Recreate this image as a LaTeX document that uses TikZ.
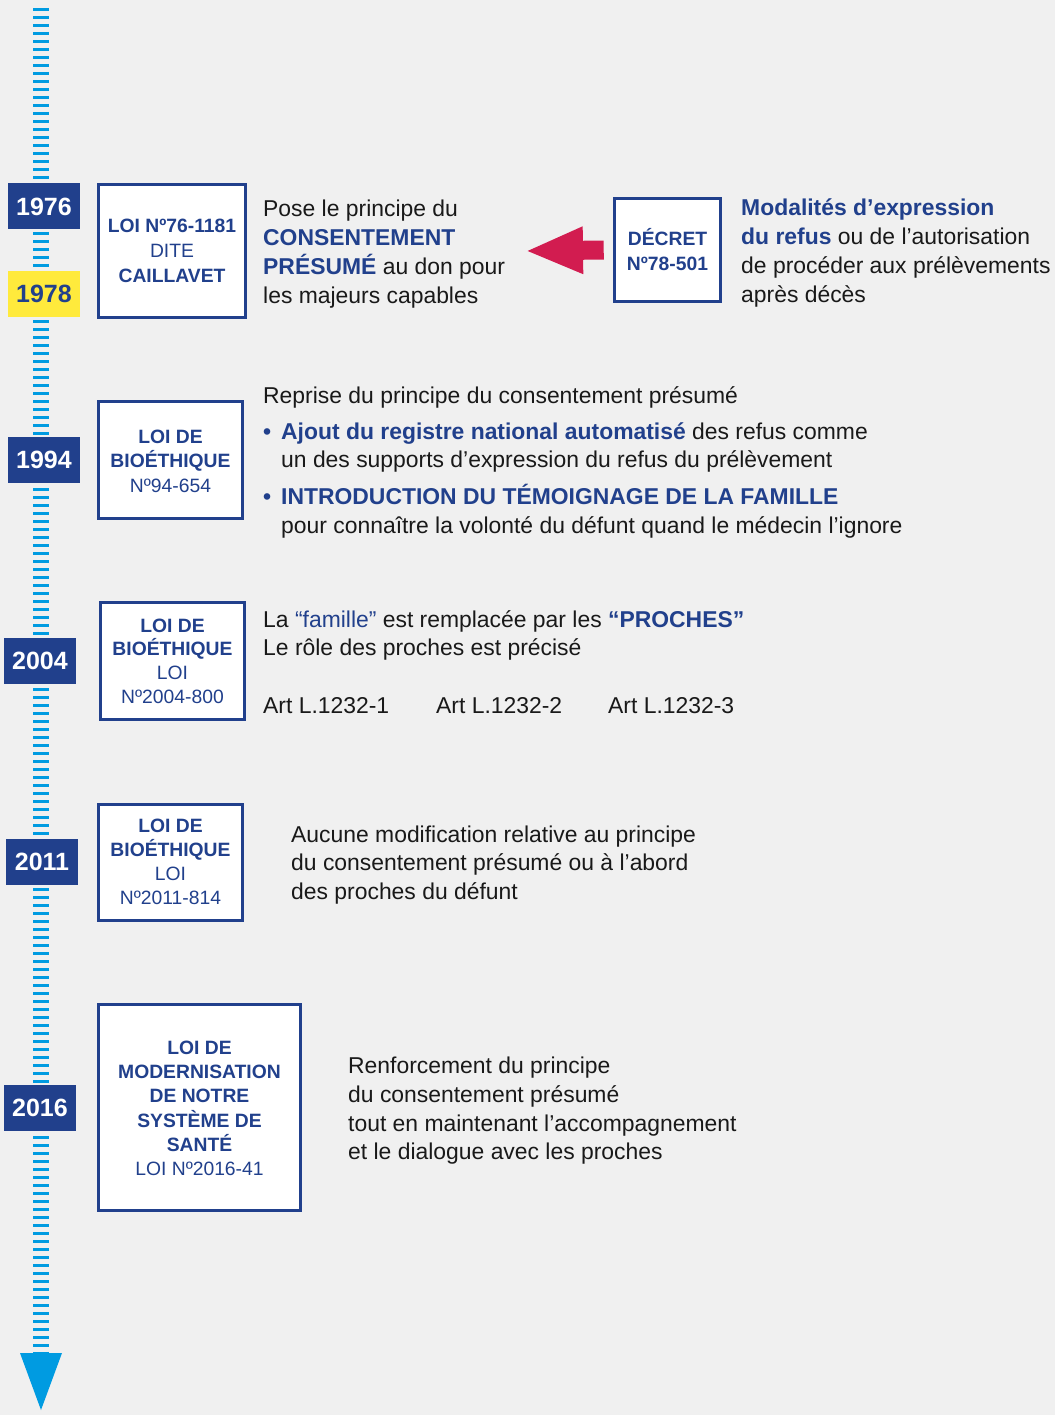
\documentclass[tikz,border=0pt]{standalone}
\usepackage{fontspec}
\setmainfont{Liberation Sans}
\usetikzlibrary{arrows.meta}
\definecolor{navy}{RGB}{33,64,140}
\definecolor{tlblue}{RGB}{0,155,225}
\definecolor{yel}{RGB}{255,234,60}
\definecolor{redarr}{RGB}{210,28,80}
\definecolor{bg}{RGB}{240,240,240}
\definecolor{ink}{RGB}{25,25,25}
\newcommand{\BB}[1]{{\color{navy}\bfseries #1}}
\begin{document}
\begin{tikzpicture}[x=1pt,y=-1pt,
  lawbox/.style={draw=navy,line width=2.6pt,fill=white,inner sep=0pt},
  yearbox/.style={fill=navy,text=white,font=\fontsize{25}{25}\selectfont\bfseries,inner sep=0pt,minimum width=72pt,minimum height=46pt},
  body/.style={anchor=base west,inner sep=0pt,text=ink,font=\fontsize{22.9}{28}\selectfont},
  boxtxt/.style={anchor=base,inner sep=0pt,text=navy,font=\fontsize{19.3}{24}\selectfont},
  boxbold/.style={boxtxt,font=\fontsize{19.3}{24}\selectfont\bfseries},
]
% background
\fill[bg] (0,0) rectangle (1055,1415);
\useasboundingbox (0,0) rectangle (1055,1415);

% timeline
\coordinate (tltop) at (41,8);
\coordinate (tlend) at (41,1353);
\draw[tlblue,line width=16pt,dash pattern=on 2.7pt off 5.3pt] (tltop) -- (tlend);
\fill[tlblue] (20,1353) -- (62,1353) -- (41,1410) -- cycle;

% year boxes
\node[yearbox] (y1976) at (44,206.5) {1976};
\node[yearbox,fill=yel,text=navy] (y1978) at (44,293.5) {1978};
\node[yearbox] (y1994) at (44,460) {1994};
\node[yearbox] (y2004) at (40,661) {2004};
\node[yearbox] (y2011) at (42,862) {2011};
\node[yearbox] (y2016) at (40,1108) {2016};

% law boxes
\node[lawbox,minimum width=147pt,minimum height=133pt] (b1976) at (172,251) {};
\node[boxbold] (b1976a) at (172,233) {LOI Nº76-1181};
\node[boxtxt] (b1976b) at (172,258) {DITE};
\node[boxbold] (b1976c) at (172,282) {CAILLAVET};

\node[lawbox,minimum width=106pt,minimum height=103pt] (decret) at (667.5,250) {};
\node[boxbold] (decreta) at (667.5,246) {DÉCRET};
\node[boxbold] (decretb) at (667.5,270) {Nº78-501};

\node[lawbox,minimum width=144pt,minimum height=117pt] (b1994) at (170.5,460) {};
\node[boxbold] (b1994a) at (170.5,443) {LOI DE};
\node[boxbold] (b1994b) at (170.5,467) {BIOÉTHIQUE};
\node[boxtxt] (b1994c) at (170.5,492) {Nº94-654};

\node[lawbox,minimum width=144pt,minimum height=117pt] (b2004) at (172.5,661) {};
\node[boxbold] (b2004a) at (172.5,632) {LOI DE};
\node[boxbold] (b2004b) at (172.5,655) {BIOÉTHIQUE};
\node[boxtxt] (b2004c) at (172.5,679) {LOI};
\node[boxtxt] (b2004d) at (172.5,703) {Nº2004-800};

\node[lawbox,minimum width=144pt,minimum height=116pt] (b2011) at (170.5,862.5) {};
\node[boxbold] (b2011a) at (170.5,832) {LOI DE};
\node[boxbold] (b2011b) at (170.5,856) {BIOÉTHIQUE};
\node[boxtxt] (b2011c) at (170.5,880) {LOI};
\node[boxtxt] (b2011d) at (170.5,904) {Nº2011-814};

\node[lawbox,minimum width=202pt,minimum height=206pt] (b2016) at (199.5,1107.5) {};
\node[boxbold] (b2016a) at (199.5,1054) {LOI DE};
\node[boxbold] (b2016b) at (199.5,1078) {MODERNISATION};
\node[boxbold] (b2016c) at (199.5,1102) {DE NOTRE};
\node[boxbold] (b2016d) at (199.5,1127) {SYSTÈME DE};
\node[boxbold] (b2016e) at (199.5,1151) {SANTÉ};
\node[boxtxt] (b2016f) at (199.5,1175) {LOI Nº2016-41};

% red arrow
\coordinate (arrtip) at (525,251);
\draw[redarr,line width=19pt,-{Triangle[length=58pt,width=43pt]}] ([xshift=-9.5pt]decret.west) -- (arrtip);

% texts 1976
\node[body] (t1a) at (263,217) {Pose le principe du};
\node[body] (t1b) at (263,246) {\BB{CONSENTEMENT}};
\node[body] (t1c) at (263,274) {\BB{PRÉSUMÉ} au don pour};
\node[body] (t1d) at (263,303) {les majeurs capables};

% texts decret
\node[body] (t2a) at (741,216) {\BB{Modalités d’expression}};
\node[body] (t2b) at (741,245) {\BB{du refus} ou de l’autorisation};
\node[body] (t2c) at (741,273) {de procéder aux prélèvements};
\node[body] (t2d) at (741,302) {après décès};

% texts 1994
\node[body] (t3a) at (263,403) {Reprise du principe du consentement présumé};
\node[body] (t3b0) at (263,439) {\BB{•}};
\node[body] (t3b) at (281,439) {\BB{Ajout du registre national automatisé} des refus comme};
\node[body] (t3c) at (281,467) {un des supports d’expression du refus du prélèvement};
\node[body] (t3d0) at (263,504) {\BB{•}};
\node[body] (t3d) at (281,504) {\BB{INTRODUCTION DU TÉMOIGNAGE DE LA FAMILLE}};
\node[body] (t3e) at (281,533) {pour connaître la volonté du défunt quand le médecin l’ignore};

% texts 2004
\node[body] (t4a) at (263,627) {La {\color{navy}“famille”} est remplacée par les \BB{“PROCHES”}};
\node[body] (t4b) at (263,655) {Le rôle des proches est précisé};
\node[body] (t4c) at (263,713) {Art L.1232-1};
\node[body] (t4d) at (436,713) {Art L.1232-2};
\node[body] (t4e) at (608,713) {Art L.1232-3};

% texts 2011
\node[body] (t5a) at (291,842) {Aucune modification relative au principe};
\node[body] (t5b) at (291,870) {du consentement présumé ou à l’abord};
\node[body] (t5c) at (291,899) {des proches du défunt};

% texts 2016
\node[body] (t6a) at (348,1073) {Renforcement du principe};
\node[body] (t6b) at (348,1102) {du consentement présumé};
\node[body] (t6c) at (348,1131) {tout en maintenant l’accompagnement};
\node[body] (t6d) at (348,1159) {et le dialogue avec les proches};
\end{tikzpicture}
\end{document}
